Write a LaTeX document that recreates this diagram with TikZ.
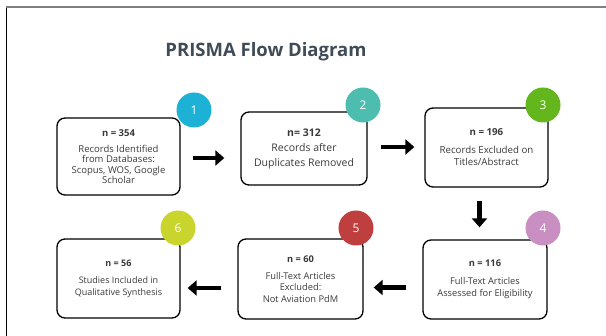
\documentclass[tikz,border=0pt]{standalone}
\usepackage{fontspec}
\setmainfont{Open Sans}
\usepackage{xcolor}
\usepackage{tikz}
\usetikzlibrary{arrows.meta,positioning}
\definecolor{txtgray}{HTML}{3A3A3A}
\definecolor{titlegray}{HTML}{3F4B57}
\definecolor{nA}{HTML}{1DB2D5}
\definecolor{nB}{HTML}{4CBDAF}
\definecolor{nC}{HTML}{63B61C}
\definecolor{nD}{HTML}{C98FC2}
\definecolor{nE}{HTML}{BF3F3E}
\definecolor{nF}{HTML}{C9D42C}

\begin{document}
\begin{tikzpicture}[x=1pt, y=-1pt,
      rec/.style={draw, line width=1.3pt, rounded corners=8pt,
                  text=txtgray, align=center, font=\fontsize{9.3}{11.5}\selectfont,
                  inner sep=0pt},
      num/.style={circle, minimum size=35pt, inner sep=0pt, text=white,
                  font=\fontsize{12}{14}\selectfont},
      arr/.style={-{Triangle[length=9pt,width=15pt]}, line width=4.5pt, black}
  ]
    \useasboundingbox (0,0) rectangle (606,336);
    \draw[black, line width=0.8pt] (6,7) -- (6,336);
    \draw[gray, line width=1.4pt] (6,7) -- (606,7);

    \node[text=titlegray, font=\fontsize{18.5}{20}\selectfont\bfseries] (title) at (266,52) {PRISMA Flow Diagram};

    % boxes
    \node[rec, minimum width=123pt, minimum height=77pt, font=\fontsize{9.5}{10.4}\selectfont] (b1) at (118.5,156.5)
      {\textbf{n = 354}\\[6pt]Records Identified\\from Databases:\\Scopus, WOS, Google\\Scholar};
    \node[rec, minimum width=126pt, minimum height=73pt, font=\fontsize{10.5}{15}\selectfont] (b2) at (304,148.5)
      {\textbf{n= 312}\\[0pt]Records after\\Duplicates Removed};
    \node[rec, minimum width=123pt, minimum height=79pt, font=\fontsize{9.7}{12}\selectfont] (b3) at (486.5,147.5)
      {\textbf{n = 196}\\[6pt]Records Excluded on\\Titles/Abstract};
    \node[rec, minimum width=124pt, minimum height=79pt, font=\fontsize{9.3}{12.5}\selectfont] (b4) at (485,279.5)
      {\textbf{n = 116}\\[5pt]Full-Text Articles\\Assessed for Eligibility};
    \node[rec, minimum width=125pt, minimum height=80pt] (b5) at (300.5,279)
      {\textbf{n = 60}\\[5pt]Full-Text Articles\\Excluded:\\Not Aviation PdM};
    \node[rec, minimum width=123pt, minimum height=79pt, font=\fontsize{9}{12}\selectfont] (b6) at (118.5,278.5)
      {\textbf{n = 56}\\[5pt]Studies Included in\\Qualitative Synthesis};

    % step numbers
    \node[num, fill=nA] (c1) at (194,110) {1};
    \node[num, fill=nB] (c2) at (363,105) {2};
    \node[num, fill=nC] (c3) at (543,105) {3};
    \node[num, fill=nD] (c4) at (543,228) {4};
    \node[num, fill=nE] (c5) at (356,228) {5};
    \node[num, fill=nF] (c6) at (178,228) {6};

    \draw[arr, shorten <=12pt, shorten >=16pt] ([yshift=-1.5pt]b1.east) -- ([yshift=-1.5pt]b1.east -| b2.west);
    \draw[arr, shorten <=13pt, shorten >=10pt] ([yshift=1.5pt]b2.east) -- ([yshift=1.5pt]b2.east -| b3.west);
    \draw[arr, shorten <=13pt, shorten >=12pt] ([xshift=-7pt]b3.south) -- ([xshift=-7pt]b3.south |- b4.north);
    \draw[arr, shorten <=16pt, shorten >=10pt] ([yshift=-8pt]b4.west) -- ([yshift=-8pt]b4.west -| b5.east);
    \draw[arr, shorten <=16pt, shorten >=7pt] ([yshift=-9pt]b5.west) -- ([yshift=-9pt]b5.west -| b6.east);
  \end{tikzpicture}
\end{document}
